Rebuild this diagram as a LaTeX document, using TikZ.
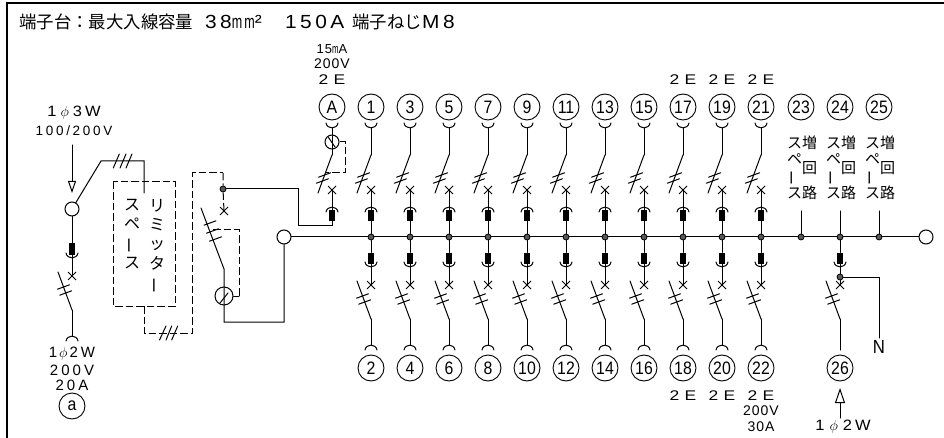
\documentclass[tikz,border=0pt]{standalone}
\usepackage{fontspec}
\usepackage{amsmath}
\usetikzlibrary{arrows.meta, shapes.misc}

\newfontfamily\cjkfont{Noto Sans CJK JP}
\newfontfamily\cadfont[LetterSpace=7]{Liberation Sans}
\newfontfamily\cadmid[LetterSpace=20]{Liberation Sans}
\newfontfamily\cadwide[FakeStretch=1.25, LetterSpace=38]{Liberation Sans}
\newfontfamily\cadtitle[FakeStretch=1.1, LetterSpace=18]{Liberation Sans}
\newfontfamily\numfont[FakeStretch=0.88]{Liberation Sans}

\tikzset{
  wire/.style={line width=1pt, line cap=round},
  dashwire/.style={line width=1pt, dash pattern=on 7.5pt off 3pt},
  frameline/.style={line width=1.8pt},
  numcircle/.style={circle, draw, line width=0.9pt, minimum size=26pt, inner sep=0pt,
    font=\numfont\fontsize{18}{18}\selectfont},
  terminal/.style={circle, draw, fill=white, line width=1pt, minimum size=14pt, inner sep=0pt},
  sensor/.style={circle, draw, line width=1pt, inner sep=0pt},
  junction/.style={circle, draw, fill=black!65, line width=0.8pt, minimum size=6pt, inner sep=0pt},
  block/.style={rectangle, fill=black, minimum width=6pt, minimum height=11pt, inner sep=0pt},
  xmark/.style={cross out, draw, line width=1pt, minimum size=8pt, inner sep=0pt, outer sep=0pt},
  titlecjk/.style={anchor=west, inner sep=0pt, font=\cjkfont\fontsize{17.4}{17.4}\selectfont},
  titlelat/.style={anchor=west, inner sep=0pt, font=\cadtitle\fontsize{19}{19}\selectfont},
  ratelabel/.style={inner sep=0pt, font=\cadfont\fontsize{14}{14}\selectfont},
  polelabel/.style={inner sep=0pt, font=\cadwide\fontsize{14}{14}\selectfont},
  feedlabel/.style={inner sep=0pt, font=\cadmid\fontsize{15}{15}\selectfont},
  widefeed/.style={inner sep=0pt, font=\cadtitle\fontsize{15}{15}\selectfont},
  coltext/.style={inner sep=0pt, align=center, font=\cjkfont\fontsize{15}{16.7}\selectfont},
  kanjicol/.style={coltext, font=\cjkfont\fontsize{15}{25}\selectfont},
  limittext/.style={inner sep=0pt, align=center, font=\cjkfont\fontsize{16}{19.4}\selectfont},
}

\newcommand{\cupmark}[2]{\draw[wire] (#1-6,#2) .. controls (#1-5,#2+6.5) and (#1+5,#2+6.5) .. (#1+6,#2);}
\newcommand{\capmark}[2]{\draw[wire] (#1-6,#2) .. controls (#1-5,#2-6.5) and (#1+5,#2-6.5) .. (#1+6,#2);}
\newcommand{\vbar}{\rotatebox[origin=c]{90}{ー}}

% breaker above the bus: name, x
\newcommand{\upbreaker}[2]{
  \coordinate (ub#1) at (#2,155);
  \coordinate (ud#1) at (#2-14,193);
  \node[xmark] (ux#1) at (#2,190) {};
  \node[block] (uk#1) at (#2,215.5) {};
  \draw[wire] (ub#1) -- (ud#1);
  \draw[wire] (#2-13.4,177.2) -- (#2-1.4,172.8);
  \draw[wire] (#2-15.6,183.2) -- (#2-3.6,178.8);
  \draw[wire] (ux#1.center) -- (uk#1);
  \capmark{#2}{212}
}

% breaker below the bus: name, x, shift in y
\newcommand{\lowbreaker}[3]{
  \node[block] (lk#1) at (#2,258+#3) {};
  \node[xmark] (lx#1) at (#2,285+#3) {};
  \coordinate (ld#1) at (#2-14,281+#3);
  \coordinate (lo#1) at (#2,319+#3);
  \draw[wire] (lk#1) -- (lx#1.center);
  \draw[wire] (ld#1) -- (lo#1);
  \draw[wire] (#2-14.5,298.2+#3) -- (#2-2.5,293.8+#3);
  \draw[wire] (#2-12.3,304.2+#3) -- (#2-0.3,299.8+#3);
  \cupmark{#2}{262+#3}
}

\begin{document}
\begin{tikzpicture}[x=1pt, y=-1pt, >=Stealth]
  \useasboundingbox (0,0) rectangle (944,438);

  % Frame and title
  \draw[frameline] (7,438) -- (7,3) -- (944,3);
  \node[titlecjk] (titlea) at (19,22) {端子台：最大入線容量};
  \node[titlelat] (titleb) at (205,22) {38\scalebox{0.6}[1]{mm}²};
  \node[titlelat] (titlec) at (285,22) {150A};
  \node[titlecjk] (titled) at (352,22) {端子ねじ};
  \node[titlelat] (titlee) at (422,22) {M8};

  % Main bus
  \node[terminal] (busleft) at (284,237) {};
  \node[terminal] (busright) at (926,237) {};
  \draw[wire] (busleft) -- (busright);

  % Incoming supply
  \node[widefeed] (supplyone) at (74,113) {1\kern4pt$\phi$\kern4pt 3\kern3pt W};
  \node[feedlabel, font=\cadmid\fontsize{13.5}{13.5}\selectfont] (supplytwo) at (74,131) {100/200V};
  \coordinate (feedtop) at (72,145);
  \coordinate (feedtip) at (72,193);
  \draw[wire, -{Triangle[open, length=12pt, width=8pt]}] (feedtop) -- (feedtip);
  \node[terminal] (incoming) at (72,209) {};

  % Limiter space
  \draw[dashwire] (113,182) rectangle (175,306);
  \node[limittext] (limitone) at (132,234) {ス\\ペ\\\vbar\\ス};
  \node[limittext] (limittwo) at (157,246) {リ\\ミ\\ッ\\タ\\\vbar};
  \coordinate (linebend) at (101,161);
  \coordinate (limitin) at (144,193);
  \draw[wire] (incoming) -- (linebend) -| (limitin);
  \draw[wire] (113.3,168) -- (119.3,154);
  \draw[wire] (120,168) -- (126,154);
  \draw[wire] (126,168) -- (132,154);
  \coordinate (limitout) at (144,306);
  \coordinate (bypasslow) at (144,333);
  \coordinate (bypasscorner) at (192.5,333);
  \coordinate (bypasstop) at (192.5,173);
  \coordinate (bypassright) at (223,173);
  \draw[dashwire] (limitout) -- (bypasslow) -- (bypasscorner) -- (bypasstop) -- (bypassright);
  \draw[wire] (159.5,340) -- (166,326);
  \draw[wire] (166,340) -- (171.7,326);
  \draw[wire] (171.7,340) -- (177.7,326);

  % Main breaker
  \node[junction] (maindot) at (223,189) {};
  \node[xmark] (mainx) at (224,211) {};
  \coordinate (mainhi) at (201,208);
  \coordinate (mainlo) at (224,269);
  \coordinate (mainbot) at (224,322);
  \coordinate (maintap) at (213,230);
  \coordinate (mainside) at (239,230);
  \coordinate (mainside2) at (239,296);
  \node[sensor, minimum size=18pt] (mainsense) at (224,296) {};
  \draw[dashwire] (bypassright) -- (maindot) -- (mainx.center);
  \draw[wire] (mainhi) -- (mainlo) -- (mainbot) -| (busleft);
  \draw[wire] (204,225.2) -- (216,220.8);
  \draw[wire] (206.5,233.2) -- (218.5,228.8);
  \draw[wire] (209.5,241.2) -- (221.5,236.8);
  \draw[wire] (220,303) -- (228,293);
  \draw[dashwire] (maintap) -- (mainside) -- (mainside2);
  \draw[wire] (mainside2) -- (mainsense);

  % Branch a
  \lowbreaker{a}{72}{-9}
  \draw[wire] (incoming) -- (lka);
  \coordinate (aend) at (72,336);
  \draw[wire] (loa) -- (aend);
  \capmark{72}{341}
  \node[feedlabel] (arateone) at (72,354) {1\kern2pt$\phi$\kern2pt 2W};
  \node[feedlabel] (aratetwo) at (72,370) {200V};
  \node[feedlabel] (aratethree) at (72,385) {20A};
  \node[numcircle] (cira) at (72,406) {a};

  % Branch A with earth leakage
  \node[numcircle] (cirA) at (332,107) {A};
  \node[ratelabel, font=\cadfont\fontsize{13}{13}\selectfont] (Arateone) at (332,49) {15\scalebox{0.6}[1]{m}A};
  \node[ratelabel] (Aratetwo) at (332,64) {200V};
  \node[polelabel] (Apole) at (332,80) {2E};
  \cupmark{332}{123}
  \upbreaker{A}{332}
  \coordinate (Atop) at (332,128);
  \node[sensor, minimum size=14pt] (Asense) at (332,142) {};
  \draw[wire] (Atop) -- (ubA);
  \draw[wire] (328.5,137.5) -- (335,147);
  \coordinate (Aside) at (345,142);
  \coordinate (Aside2) at (345,173);
  \coordinate (Atap) at (326,173);
  \draw[dashwire] (Asense) -- (Aside) -- (Aside2) -- (Atap);
  \coordinate (Abusa) at (332,226);
  \coordinate (Abusb) at (298,226);
  \coordinate (Abusc) at (298,189);
  \draw[wire] (ukA) -- (Abusa) -- (Abusb) -- (Abusc) -- (maindot);

  % Branches on the bus
  \foreach \x/\up/\low in {371/1/2, 410/3/4, 449/5/6, 488/7/8, 527/9/10, 566/11/12,
                           605/13/14, 644/15/16, 683/17/18, 722/19/20, 761/21/22} {
    \node[numcircle] (cir\up) at (\x,107) {\up};
    \node[numcircle] (cir\low) at (\x,368) {\low};
    \cupmark{\x}{123}
    \upbreaker{\up}{\x}
    \coordinate (ut\up) at (\x,128);
    \draw[wire] (ut\up) -- (ub\up);
    \node[junction] (ju\up) at (\x,237) {};
    \draw[wire] (uk\up) -- (ju\up);
    \lowbreaker{\low}{\x}{0}
    \draw[wire] (ju\up) -- (lk\low);
    \coordinate (le\low) at (\x,345);
    \draw[wire] (lo\low) -- (le\low);
    \capmark{\x}{350}
  }

  % Pole marks
  \node[polelabel] (pole17) at (683,80) {2E};
  \node[polelabel] (pole19) at (722,80) {2E};
  \node[polelabel] (pole21) at (761,80) {2E};
  \node[polelabel] (pole18) at (683,396) {2E};
  \node[polelabel] (pole20) at (722,396) {2E};
  \node[polelabel] (pole22) at (761,396) {2E};
  \node[ratelabel] (rate22a) at (761,411) {200V};
  \node[ratelabel] (rate22b) at (761,427) {30A};

  % Spare ways
  \foreach \x/\n in {801/23, 840/24, 879/25} {
    \node[numcircle] (cir\n) at (\x,107) {\n};
    \node[coltext] (spa\n) at (\x-6.5,168) {ス\\ペ\\\vbar\\ス};
    \node[kanjicol] (kan\n) at (\x+8.5,168) {増\\回\\路};
    \node[junction] (ju\n) at (\x,237) {};
    \coordinate (sp\n) at (\x,211);
    \draw[wire] (sp\n) -- (ju\n);
  }

  % Branch 26
  \lowbreaker{26}{840}{0}
  \draw[wire] (ju24) -- (lk26);
  \node[junction] (neutral) at (840,277) {};
  \coordinate (nbend) at (879,277);
  \coordinate (nend) at (879,338);
  \draw[wire] (neutral) -- (nbend) -- (nend);
  \node[inner sep=0pt, font=\numfont\fontsize{19}{19}\selectfont] (nlabel) at (879,347) {N};
  \node[numcircle] (cir26) at (840,368) {26};
  \coordinate (le26) at (840,350);
  \draw[wire] (lo26) -- (le26);
  \coordinate (in26) at (840,418);
  \coordinate (tip26) at (840,388);
  \draw[wire, -{Triangle[open, length=15pt, width=10pt]}] (in26) -- (tip26);
  \node[widefeed] (rate26) at (843,427) {1\kern5pt$\phi$\kern5pt 2\kern3pt W};
\end{tikzpicture}
\end{document}
